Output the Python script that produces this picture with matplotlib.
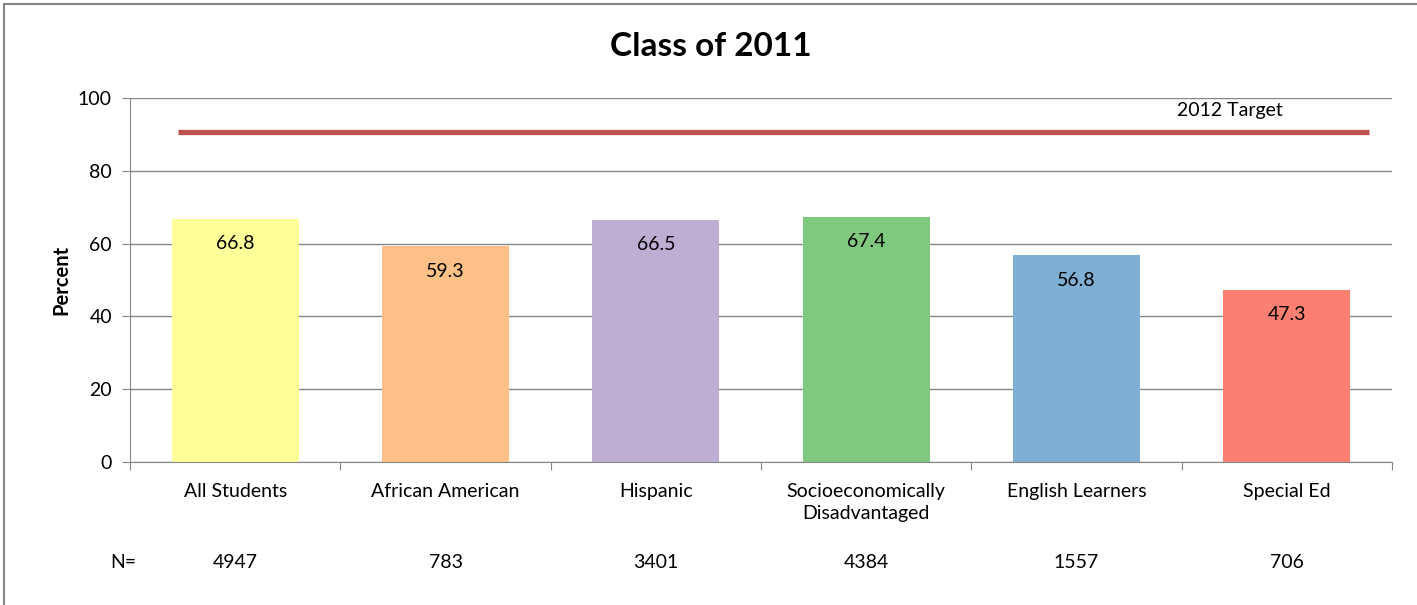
import matplotlib
matplotlib.use("Agg")
import matplotlib.pyplot as plt
from matplotlib.patches import Rectangle
import matplotlib.transforms as mtransforms
import numpy as np

categories = ["All Students", "African American", "Hispanic",
              "Socioeconomically\nDisadvantaged", "English Learners", "Special Ed"]
values = [66.8, 59.3, 66.5, 67.4, 56.8, 47.3]
counts = ["4947", "783", "3401", "4384", "1557", "706"]
colors = ["#FFFF99", "#FDC086", "#BEAED4", "#7FC97F", "#7FB0D3", "#FB8072"]
target_value = 90.7
target_label = "2012 Target"
title = "Class of 2011"

plt.rcParams['font.family'] = ['Lato', 'DejaVu Sans']

FS = 14
W, H, DPI = 1417, 605, 100
fig = plt.figure(figsize=(W / DPI, H / DPI), dpi=DPI)
ax = fig.add_axes([130 / W, 1 - 462 / H, (1392 - 130) / W, (462 - 98) / H])

x = np.arange(len(categories))
ax.bar(x, values, width=0.605, color=colors, zorder=2)
for xi, v in zip(x, values):
    ax.annotate(f"{v}", (xi, v), xytext=(0, -18), textcoords="offset points",
                ha="center", va="center", fontsize=FS, color="black", zorder=3)

# target line
ax.plot([-0.27, 5.39], [target_value, target_value], color="#C0504D", lw=3.8,
        solid_capstyle="butt", zorder=4)
ax.text(4.73, 96.7, target_label, ha="center", va="center", fontsize=FS)

ax.set_xlim(-0.5, len(categories) - 0.5)
ax.set_ylim(0, 100)
ax.set_yticks(range(0, 101, 20))
ax.yaxis.grid(True, color="#868686", lw=1)
ax.set_axisbelow(True)
ax.set_xticks(np.arange(-0.5, len(categories), 1.0))
ax.set_xticklabels([])
ax.set_xticks(x, minor=True)
ax.set_xticklabels(categories, minor=True, fontsize=FS, va="top", linespacing=1.35)
ax.tick_params(axis="x", which="minor", length=0, pad=15)
ax.tick_params(axis="x", which="major", length=6, color="#868686", direction="out")
ax.tick_params(axis="y", length=6, color="#868686", direction="out", labelsize=FS, pad=7)
for s in ["top", "right"]:
    ax.spines[s].set_visible(False)
for s in ["left", "bottom"]:
    ax.spines[s].set_color("#868686")
ax.set_ylabel("Percent", fontsize=14.5, fontweight="bold", labelpad=5)

# N row
trans = mtransforms.blended_transform_factory(ax.transData, ax.transAxes)
ny = (462 - 563) / (462 - 98)
ax.text(-0.53, ny, "N=", transform=trans, ha="center", va="center", fontsize=FS)
for xi, c in zip(x, counts):
    ax.text(xi, ny, c, transform=trans, ha="center", va="center", fontsize=FS)

fig.text(711 / W, 1 - 47 / H, title, ha="center", va="center", fontsize=24, fontweight="bold")

fig.patches.append(Rectangle((4 / W, -0.1), 1.2, 1 - 4 / H + 0.1, transform=fig.transFigure,
                             fill=False, edgecolor="#868686", lw=1.5))

fig.savefig("out.png", dpi=DPI)
